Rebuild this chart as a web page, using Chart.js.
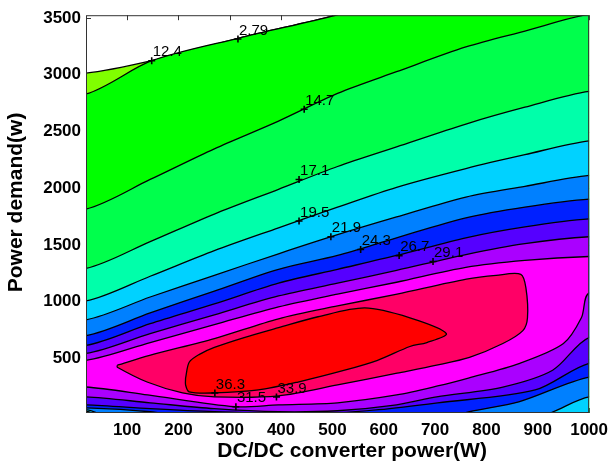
<!DOCTYPE html>
<html>
<head>
<meta charset="utf-8">
<script src="https://cdn.jsdelivr.net/npm/chart.js@4.4.1/dist/chart.umd.min.js"></script>
<style>
  html, body { margin: 0; padding: 0; background: #fff; }
  #wrap { width: 615px; height: 466px; }
</style>
</head>
<body>
<div id="wrap"><canvas id="contourChart" width="615" height="466"></canvas></div>
<script>
// contour levels, lowest first, and the fill used above each level
const levels = [10.0, 12.4, 14.7, 17.1, 19.5, 21.9, 24.3, 26.7, 29.1, 31.5, 33.9, 36.3];
const bandColors = ['#80ff00', '#00ff00', '#00ff4c', '#00ffaa', '#00d2ff', '#0080ff',
                    '#0020ff', '#5500ff', '#aa00ff', '#ff00ff', '#ff0066', '#ff0000'];

const xTicks = [100, 200, 300, 400, 500, 600, 700, 800, 900, 1000];
const yTicks = [500, 1000, 1500, 2000, 2500, 3000, 3500];

// DC/DC power columns where the upper contour lines were read
const xCols = [20, 145, 270, 395, 510, 625, 760, 875, 1000];

// upper contour lines (power demand at each xCols value)
const upper147 = [1817, 2078, 2348, 2592, 2836, 3027, 3245, 3385, 3533];
const upper171 = [1294, 1530, 1773, 1991, 2192, 2365, 2566, 2714, 2853];
const upper195 = [1007, 1225, 1451, 1652, 1834, 2009, 2174, 2296, 2418];
const upper219 = [841, 1042, 1233, 1423, 1591, 1747, 1922, 2017, 2113];
const upper243 = [702, 902, 1094, 1286, 1408, 1564, 1739, 1834, 1904];
const upper267 = [615, 807, 981, 1164, 1286, 1408, 1564, 1660, 1730];
const upper291 = [545, 720, 885, 1051, 1164, 1277, 1416, 1512, 1573];
const upper315 = [484, 641, 798, 955, 1068, 1172, 1303, 1364, 1399];

// top lines (x, y)
const top100 = [[20, 3014], [148, 3124], [318, 3324], [506, 3524], [560, 3600]];
const top124 = [[20, 2831], [148, 3124], [318, 3324], [506, 3524], [560, 3600]];

// lower contour lines (x, y); values under the axis run off the bottom
const bottomEdge = [[20, -100], [1000, -100]];
const lower147 = [[20, 22], [45, -50], [1000, -50]];
const lower171 = [[20, 28], [55, -50], [1000, -50]];
const lower195 = [[20, 36], [70, -50], [1000, -50]];
const lower219 = [[20, 49], [90, -50], [880, -50], [930, 31], [1000, 162]];
const lower243 = [[20, 66], [145, 31], [270, -50], [700, -50], [767, 31], [863, 118], [1000, 336]];
const lower267 = [[20, 92], [145, 58], [270, 31], [395, 18], [510, 22], [590, 49], [705, 110], [895, 223], [1000, 458]];
const lower291 = [[20, 162], [145, 110], [270, 58], [395, 31], [510, 40], [625, 92], [703, 162], [832, 249], [929, 397], [1000, 685]];
const lower315 = [[20, 249], [140, 179], [310, 75], [395, 92], [510, 110], [625, 179], [705, 258], [765, 328], [865, 458], [950, 632], [985, 859], [1000, 1077]];

// closed islands
const loop339 = [[81, 441], [144, 528], [270, 676], [395, 850], [510, 963], [626, 1068], [761, 1199], [819, 1233],
  [867, 1242], [877, 1120], [880, 859], [871, 746], [832, 632], [767, 510], [703, 441], [626, 371], [510, 267],
  [395, 171], [270, 162], [208, 197], [139, 293], [81, 423]];
const loop363 = [[214, 328], [221, 467], [241, 537], [270, 598], [328, 685], [395, 772], [472, 868], [563, 946],
  [651, 859], [722, 720], [684, 641], [651, 606], [588, 484], [524, 397], [433, 293], [356, 223], [270, 197],
  [221, 206], [214, 267]];

// contour labels
const labelText = ['12.4', '2.79', '14.7', '17.1', '19.5', '21.9', '24.3', '26.7', '29.1', '36.3', '31.5', '33.9'];
const labelX = [148, 316, 445, 435, 435, 497, 555, 630, 696, 271, 312, 391];
const labelY = [3124, 3315, 2696, 2078, 1712, 1573, 1460, 1407, 1355, 197, 75, 162];

const FONT = 'Liberation Sans, Arial, Helvetica, sans-serif';
const zipCols = ys => ys.map((y, i) => [xCols[i], y]);

function bandPolygon(upper, lower) {
    const pts = [{ x: -100, y: upper[0][1] }];
    upper.forEach(([x, y]) => pts.push({ x, y }));
    pts.push({ x: 1100, y: upper[upper.length - 1][1] });
    pts.push({ x: 1100, y: lower[lower.length - 1][1] });
    lower.slice().reverse().forEach(([x, y]) => pts.push({ x, y }));
    pts.push({ x: -100, y: lower[0][1] });
    pts.push(pts[0]);
    return pts;
}
function loopPolygon(loop) {
    const pts = loop.map(([x, y]) => ({ x, y }));
    pts.push(pts[0]);
    return pts;
}

const shapes = [
    bandPolygon(top100, bottomEdge),
    bandPolygon(top124, bottomEdge),
    bandPolygon(zipCols(upper147), lower147),
    bandPolygon(zipCols(upper171), lower171),
    bandPolygon(zipCols(upper195), lower195),
    bandPolygon(zipCols(upper219), lower219),
    bandPolygon(zipCols(upper243), lower243),
    bandPolygon(zipCols(upper267), lower267),
    bandPolygon(zipCols(upper291), lower291),
    bandPolygon(zipCols(upper315), lower315),
    loopPolygon(loop339),
    loopPolygon(loop363)
];

const datasets = shapes.map((pts, i) => ({
    label: 'level ' + levels[i],
    data: pts,
    showLine: true,
    fill: 'shape',
    backgroundColor: bandColors[i],
    borderColor: '#000',
    borderWidth: 1.3,
    pointRadius: 0,
    tension: 0.3,
    order: 100 - i
}));
datasets.push({
    label: 'labels',
    data: labelX.map((x, i) => ({ x, y: labelY[i] })),
    showLine: false,
    pointStyle: 'cross',
    pointRadius: 3.5,
    borderColor: '#000',
    borderWidth: 1.6,
    order: 0
});

// MATLAB-style inner tick marks, drawn under the filled contours
const innerTicks = {
    id: 'innerTicks',
    beforeDatasetsDraw(chart) {
        const { ctx, chartArea: a, scales } = chart;
        ctx.save();
        ctx.strokeStyle = '#333';
        ctx.lineWidth = 1;
        ctx.beginPath();
        xTicks.forEach(v => {
            const px = Math.round(scales.x.getPixelForValue(v)) + 0.5;
            ctx.moveTo(px, a.top); ctx.lineTo(px, a.top + 5);
            ctx.moveTo(px, a.bottom); ctx.lineTo(px, a.bottom - 5);
        });
        yTicks.forEach(v => {
            const py = Math.round(scales.y.getPixelForValue(v)) + 0.5;
            ctx.moveTo(a.left, py); ctx.lineTo(a.left + 5, py);
            ctx.moveTo(a.right, py); ctx.lineTo(a.right - 5, py);
        });
        ctx.stroke();
        ctx.restore();
    }
};

const contourLabels = {
    id: 'contourLabels',
    afterDatasetsDraw(chart) {
        const { ctx, scales, chartArea: a } = chart;
        ctx.save();
        ctx.fillStyle = '#000';
        ctx.font = '15px ' + FONT;
        ctx.textAlign = 'left';
        ctx.textBaseline = 'bottom';
        labelText.forEach((t, i) => {
            const px = scales.x.getPixelForValue(labelX[i]);
            const py = scales.y.getPixelForValue(labelY[i]);
            ctx.fillText(t, px + 1, py - 1);
        });
        ctx.strokeStyle = '#333';
        ctx.lineWidth = 1;
        ctx.strokeRect(a.left + 0.5, a.top + 0.5, a.right - a.left - 1, a.bottom - a.top - 1);
        ctx.restore();
    }
};

const tickFont = { family: FONT, size: 17, weight: 'bold' };
const titleFont = { family: FONT, size: 21, weight: 'bold', lineHeight: 1.2 };

new Chart(document.getElementById('contourChart').getContext('2d'), {
    type: 'scatter',
    data: { datasets },
    options: {
        responsive: false,
        animation: false,
        devicePixelRatio: 1,
        layout: { padding: { left: 0, right: 19, top: 11, bottom: 0 } },
        elements: { line: { capBezierPoints: false } },
        plugins: {
            legend: { display: false },
            tooltip: { enabled: false }
        },
        scales: {
            x: {
                type: 'linear',
                min: 20,
                max: 1000,
                afterBuildTicks: s => { s.ticks = xTicks.map(v => ({ value: v })); },
                afterFit: s => { s.height = 53; },
                grid: { display: false, drawTicks: false },
                border: { display: false },
                ticks: { color: '#000', font: tickFont, padding: 7, maxRotation: 0, callback: v => String(v) },
                title: { display: true, text: '     DC/DC converter power(W)', color: '#000', font: titleFont, padding: { top: 0, bottom: 2 } }
            },
            y: {
                type: 'linear',
                min: 20,
                max: 3525,
                afterBuildTicks: s => { s.ticks = yTicks.map(v => ({ value: v })); },
                afterFit: s => { s.width = 86; },
                grid: { display: false, drawTicks: false },
                border: { display: false },
                ticks: { color: '#000', font: tickFont, padding: 5, callback: v => String(v) },
                title: { display: true, text: '    Power demand(w)', color: '#000', font: titleFont, padding: { top: 4, bottom: 0 } }
            }
        }
    },
    plugins: [innerTicks, contourLabels]
});
</script>
</body>
</html>
